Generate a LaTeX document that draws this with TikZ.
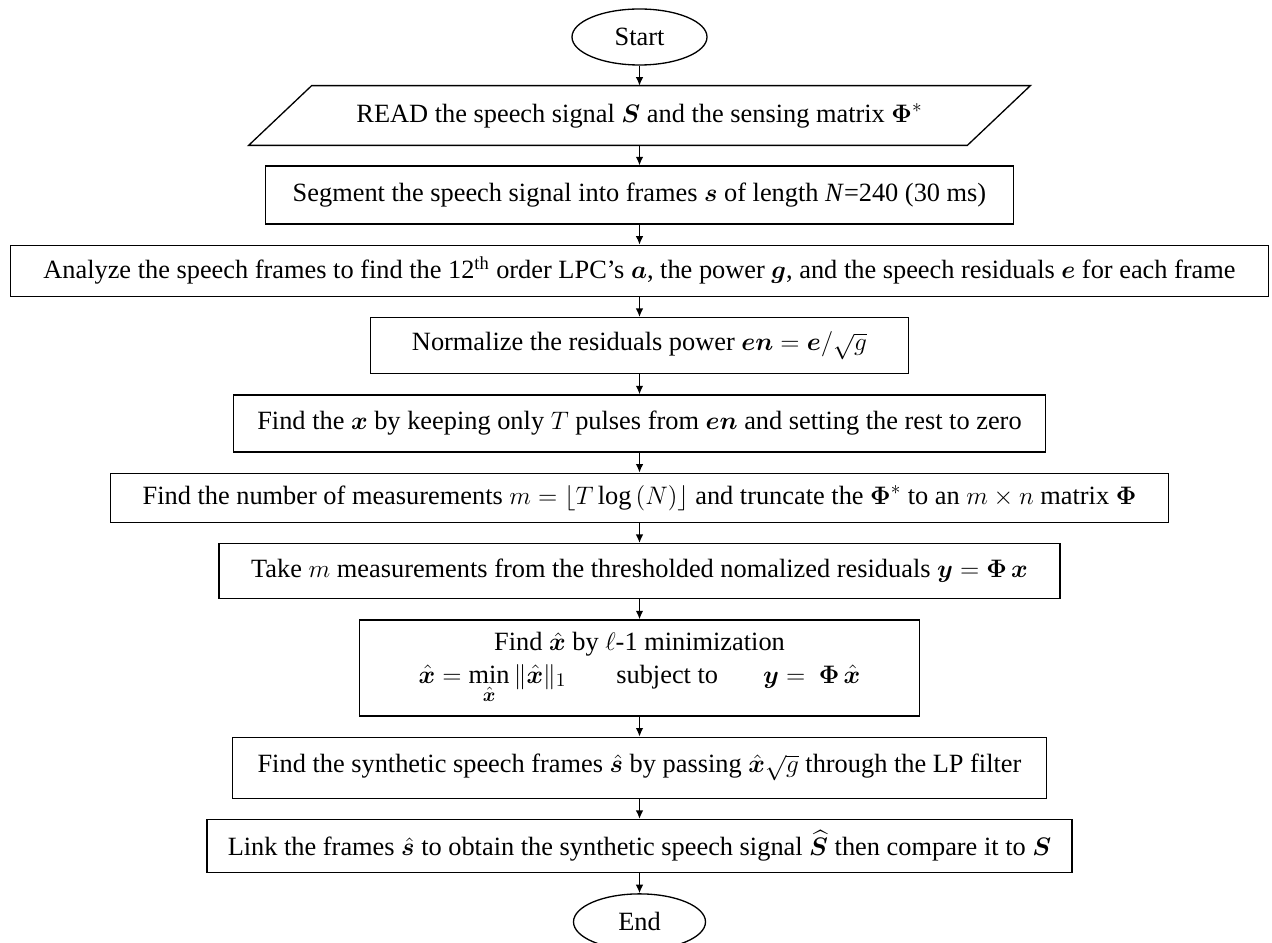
\documentclass[tikz,border=0pt]{standalone}
\usepackage{amsmath,amssymb}
\usepackage{bm}
\usepackage{fontspec}
\setmainfont{Liberation Serif}
\usetikzlibrary{arrows.meta, positioning, shapes.geometric}

\begin{document}
\begin{tikzpicture}[
  node distance=0.4cm,
  font=\fontsize{15}{18.5}\selectfont,
  terminal/.style={draw, ellipse, line width=0.75pt, minimum width=2.7cm, minimum height=1.12cm, inner sep=0pt},
  flowbox/.style={draw, rectangle, line width=0.75pt, inner xsep=0.1cm, inner ysep=0.1cm, align=center},
  flowarrow/.style={-{Latex[length=1.7mm,width=1.5mm]}, line width=0.75pt},
]
  \useasboundingbox (0,0) rectangle (25.44,-18.86);
  \node[terminal] (start) at (12.79,-0.74) {Start};
  % input step, drawn as a slanted box round the node
  \node[minimum width=14.36cm, minimum height=1.18cm, below=of start] (read)
    {READ the speech signal $\bm{S}$ and the sensing matrix $\bm{\Phi}^{*}$};
  \draw[line width=0.75pt] ([xshift=0.63cm]read.north west) -- ([xshift=0.63cm]read.north east)
    -- ([xshift=-0.63cm]read.south east) -- ([xshift=-0.63cm]read.south west) -- cycle;
  \node[flowbox, minimum width=14.96cm, minimum height=1.16cm, below=of read] (seg)
    {Segment the speech signal into frames $\bm{s}$ of length \textit{N}=240 (30 ms)};
  \node[flowbox, minimum width=25.16cm, minimum height=1.02cm, below=of seg] (lpc)
    {Analyze the speech frames to find the 12\textsuperscript{th} order LPC’s $\bm{a}$, the power $\bm{g}$, and the speech residuals $\bm{e}$ for each frame};
  \node[flowbox, minimum width=10.76cm, minimum height=1.12cm, below=of lpc] (norm)
    {Normalize the residuals power $\bm{en} = \bm{e}/\sqrt{g}$};
  \node[flowbox, minimum width=16.24cm, minimum height=1.14cm, below=of norm] (thresh)
    {Find the $\bm{x}$ by keeping only $T$ pulses from $\bm{en}$ and setting the rest to zero};
  \node[flowbox, minimum width=21.16cm, minimum height=0.98cm, below=of thresh] (meas)
    {Find the number of measurements $m = \lfloor T \log\,(N)\rfloor$ and truncate the $\bm{\Phi}^{*}$ to an $m \times n$ matrix $\bm{\Phi}$};
  \node[flowbox, minimum width=16.82cm, minimum height=1.10cm, below=of meas] (take)
    {Take $m$ measurements from the thresholded nomalized residuals $\bm{y} = \bm{\Phi}\,\bm{x}$};
  \node[flowbox, minimum width=11.2cm, minimum height=1.92cm, below=of take] (lone)
    {Find $\hat{\bm{x}}$ by $\ell$-1 minimization\\
     $\hat{\bm{x}} = \min\limits_{\hat{\bm{x}}}\|\hat{\bm{x}}\|_1$\hspace{1cm}subject to\hspace{0.9cm}$\bm{y} =\ \bm{\Phi}\,\hat{\bm{x}}$};
  \node[flowbox, minimum width=16.28cm, minimum height=1.22cm, below=of lone] (synth)
    {Find the synthetic speech frames $\hat{\bm{s}}$ by passing $\hat{\bm{x}}\sqrt{g}$ through the LP filter};
  \node[flowbox, minimum width=17.3cm, minimum height=1.06cm, below=of synth] (link)
    {Link the frames $\hat{\bm{s}}$ to obtain the synthetic speech signal $\widehat{\bm{S}}$ then compare it to $\bm{S}$};
  \node[terminal, minimum width=2.64cm, below=of link] (end) {End};
  % connectors
  \foreach \a/\b in {start/read, read/seg, seg/lpc, lpc/norm, norm/thresh, thresh/meas,
                     meas/take, take/lone, lone/synth, synth/link, link/end}
    \draw[flowarrow] (\a) -- (\b);
\end{tikzpicture}
\end{document}
